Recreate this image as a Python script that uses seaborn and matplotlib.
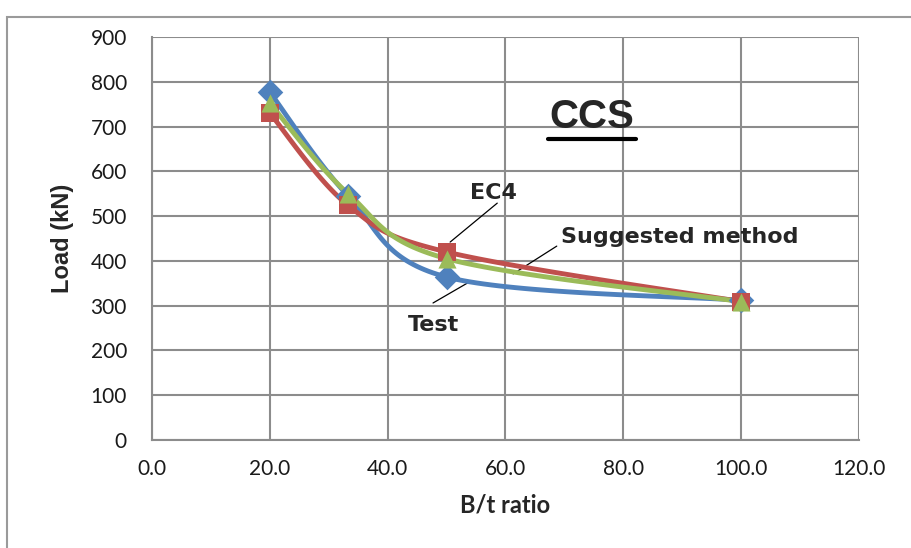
import numpy as np
import pandas as pd
import matplotlib
matplotlib.use("Agg")
import matplotlib.pyplot as plt
import seaborn as sns
from matplotlib.patches import Rectangle

# B/t ratio of the tested sections and the corresponding loads (kN)
bt_ratio = [20.0, 33.3, 50.0, 100.0]
load_test = [777, 545, 364, 312]
load_ec4 = [730, 524, 420, 309]
load_suggested = [752, 550, 405, 309]

series_names = ["Test", "EC4", "Suggested method"]
series_colors = {"Test": "#4F81BD", "EC4": "#C0504D", "Suggested method": "#9BBB59"}
series_markers = {"Test": "D", "EC4": "s", "Suggested method": "^"}

x_ticks = [0, 20, 40, 60, 80, 100, 120]
y_ticks = [0, 100, 200, 300, 400, 500, 600, 700, 800, 900]

sns.set_theme(style="white")
plt.rcParams["font.family"] = ["Liberation Sans", "DejaVu Sans"]

fig = plt.figure(figsize=(9.12, 5.48), dpi=100)
ax = fig.add_axes([152 / 912, 108 / 548, 707 / 912, 403 / 548])

# Outer chart frame
fig.patches.append(Rectangle((7 / 912, -0.05), 1.2, (548 - 17) / 548 + 0.05,
                             transform=fig.transFigure, fill=False,
                             edgecolor="#9a9a9a", linewidth=1.5))

# scale factors so the smoothing works in screen-like proportions
sx, sy = 707 / 120.0, 403 / 900.0


def smooth(xs, ys, n=40):
    """Bezier smoothing through the points (spreadsheet-style smoothed line)."""
    P = np.column_stack([np.asarray(xs) * sx, np.asarray(ys) * sy])
    out = []
    for i in range(len(P) - 1):
        p0 = P[i - 1] if i > 0 else P[i]
        p1, p2 = P[i], P[i + 1]
        p3 = P[i + 2] if i + 2 < len(P) else P[i + 1]
        c1 = p1 + (p2 - p0) / 6.0
        c2 = p2 - (p3 - p1) / 6.0
        t = np.linspace(0, 1, n)[:, None]
        seg = ((1 - t) ** 3) * p1 + 3 * ((1 - t) ** 2) * t * c1 + 3 * (1 - t) * t ** 2 * c2 + t ** 3 * p2
        out.append(seg if i == 0 else seg[1:])
    out = np.vstack(out)
    return out[:, 0] / sx, out[:, 1] / sy


loads = {"Test": load_test, "EC4": load_ec4, "Suggested method": load_suggested}
points = pd.DataFrame({
    "bt": bt_ratio * 3,
    "load": load_test + load_ec4 + load_suggested,
    "series": sum([[s] * len(bt_ratio) for s in series_names], []),
})

for name in series_names:
    cx, cy = smooth(bt_ratio, loads[name])
    curve = pd.DataFrame({"bt": cx, "load": cy})
    sns.lineplot(data=curve, x="bt", y="load", ax=ax, color=series_colors[name],
                 linewidth=3.5, sort=False, estimator=None, zorder=3)
for name in series_names:
    sub = points[points["series"] == name]
    sns.scatterplot(data=sub, x="bt", y="load", ax=ax, color=series_colors[name],
                    marker=series_markers[name], s=170, edgecolor=series_colors[name],
                    linewidth=0, zorder=4, legend=False)

ax.set_xlim(0, 120)
ax.set_ylim(0, 900)
ax.set_xticks(x_ticks)
ax.set_xticklabels([f"{v:.1f}" for v in x_ticks])
ax.set_yticks(y_ticks)
ax.set_yticklabels([str(v) for v in y_ticks])
ax.grid(True, color="#8c8c8c", linewidth=1.5)
ax.set_axisbelow(True)
for side in ["top", "right"]:
    ax.spines[side].set_visible(False)
for side in ["left", "bottom"]:
    ax.spines[side].set_color("#8c8c8c")
    ax.spines[side].set_linewidth(1.5)
ax.tick_params(axis="both", which="major", length=7, width=1.5, color="#8c8c8c",
               labelsize=15, labelcolor="#1a1a1a", direction="out")
ax.tick_params(axis="x", pad=7)
ax.tick_params(axis="y", pad=11)
for lbl in ax.get_xticklabels() + ax.get_yticklabels():
    lbl.set_fontfamily(["Lato", "DejaVu Sans"])

ax.set_xlabel("B/t ratio", fontsize=17, fontweight="bold", labelpad=10,
              fontfamily=["Lato", "DejaVu Sans"])
ax.set_ylabel("Load (kN)", fontsize=17, fontweight="bold", labelpad=12)

# chart caption, underlined
ax.text(74.7, 721, "CCS", fontsize=29, fontweight="bold", ha="center", va="center")
ax.plot([67.2, 82.1], [673, 673], color="black", linewidth=3, clip_on=False)

# series labels with leader lines
label_font = dict(fontsize=16, fontweight="bold", ha="center", va="center",
                  fontfamily=["DejaVu Sans"])
ax.text(57.9, 552, "EC4", **label_font)
ax.plot([50.6, 58.6], [442, 529], color="black", linewidth=0.9)
ax.text(89.6, 453, "Suggested method", **label_font)
ax.plot([61.3, 68.7], [371, 433], color="black", linewidth=0.9)
ax.text(47.7, 257, "Test", **label_font)
ax.plot([47.7, 53.6], [306, 351], color="black", linewidth=0.9)

fig.savefig("out.png", dpi=100)
